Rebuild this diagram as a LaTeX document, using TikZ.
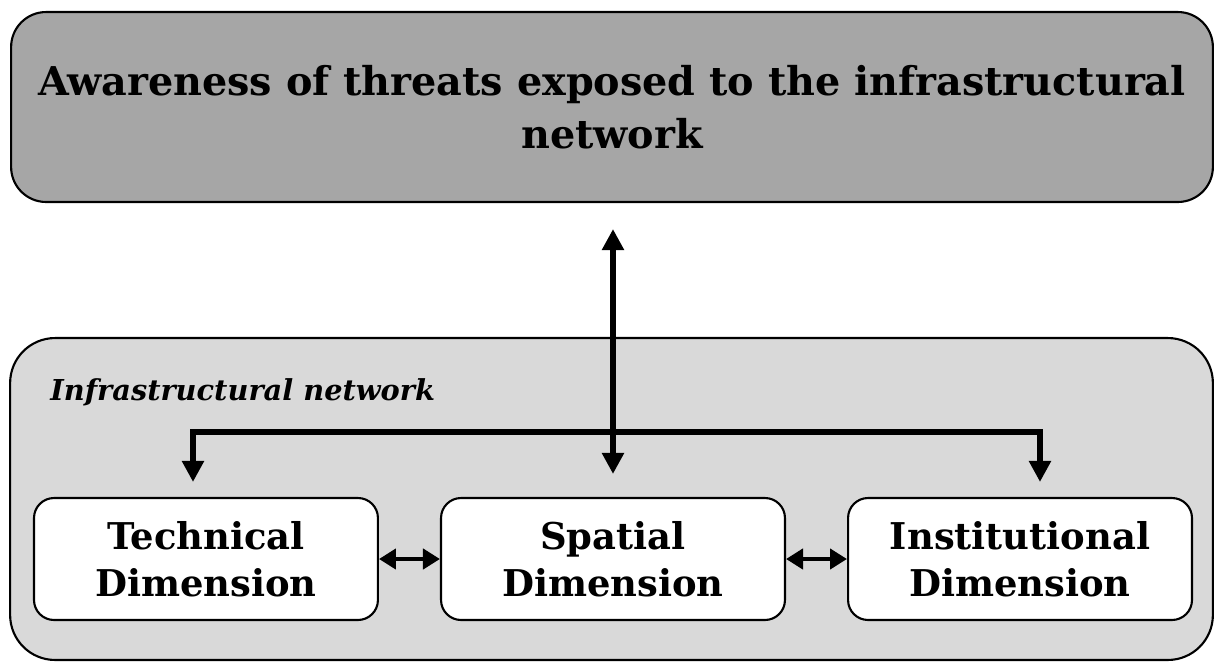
\documentclass[tikz,border=0pt]{standalone}
\usepackage{fontspec}
\setmainfont{DejaVu Serif}
\usetikzlibrary{arrows.meta,positioning}
\definecolor{headgray}{HTML}{A6A6A6}
\definecolor{netgray}{HTML}{D9D9D9}

\begin{document}
\begin{tikzpicture}[x=0.02cm,y=-0.02cm,node distance=1.22cm,
	dimbox/.style={draw,line width=1.2pt,fill=white,rounded corners=0.4cm,
		minimum width=6.88cm,minimum height=2.44cm,align=center,
		font=\bfseries\fontsize{21}{27}\selectfont},
	link/.style={line width=3.2pt,-{Triangle[length=0.42cm,width=0.42cm]}},
	twoway/.style={line width=2.6pt,{Triangle[length=0.34cm,width=0.4cm]}-{Triangle[length=0.34cm,width=0.4cm]}}]
\useasboundingbox (0,0) rectangle (1215,664);

% awareness box on top
\node[draw,line width=1.2pt,fill=headgray,rounded corners=0.7cm,
	minimum width=24.04cm,minimum height=3.8cm,align=center,
	font=\bfseries\fontsize{22.6}{30}\selectfont]
	(aware) at (612,107) {Awareness of threats exposed to the infrastructural\\network};

% network container
\node[draw,line width=1.2pt,fill=netgray,rounded corners=0.9cm,
	minimum width=24.06cm,minimum height=6.44cm] (net) at (611.5,499) {};
\node[anchor=base west,inner sep=0pt,font=\bfseries\itshape\fontsize{16.4}{20}\selectfont]
	(netlabel) at (50,400) {Infrastructural network};

% the three dimensions
\node[dimbox] 	(spat) 	at (613,559) 		{Spatial\\Dimension};
\node[dimbox] 	(tech) 	[left=of spat] 		{Technical\\Dimension};
\node[dimbox] 	(inst) 	[right=of spat] 	{Institutional\\Dimension};

\path[twoway]
	(tech) 	edge 	(spat)
	(spat) 	edge 	(inst)
;

% branch line feeding the side boxes
\coordinate (splitl) at (193,432);
\coordinate (splitr) at (1040,432);
\draw[link,shorten >=0.3cm] (splitr) -- (splitl) -- (splitl |- tech.north);
\draw[link,shorten >=0.3cm] (splitl) -- (splitr) -- (splitr |- inst.north);

% link up to the awareness box
\draw[link,{Triangle[length=0.42cm,width=0.42cm]}-{Triangle[length=0.42cm,width=0.42cm]},
	shorten <=0.46cm,shorten >=0.52cm] (spat.north) -- (spat.north |- aware.south);
\end{tikzpicture}
\end{document}
